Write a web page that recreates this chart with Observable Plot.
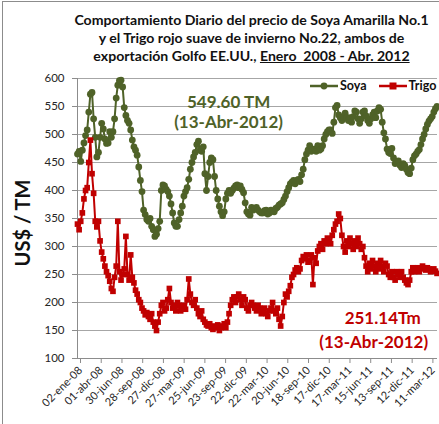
<!DOCTYPE html>
<html><head><meta charset="utf-8">
<script src="https://cdn.jsdelivr.net/npm/d3@7"></script>
<script src="https://cdn.jsdelivr.net/npm/@observablehq/plot@0.6"></script>
<style>
body{margin:0;background:#fff;}
#wrap{position:relative;width:439px;height:424px;overflow:hidden;font-family:Lato,sans-serif;background:#fff;}
#frame{position:absolute;left:2px;top:1px;width:600px;height:600px;border-left:1px solid #8c8c8c;border-top:1px solid #8c8c8c;pointer-events:none;}
#title{position:absolute;left:64px;width:375px;top:11px;text-align:center;font-weight:700;font-size:14.1px;color:#111;white-space:pre;}
#title div{height:18px;line-height:18px;}
#title u{text-decoration:underline;}
#ylab{position:absolute;left:22px;top:223px;transform:translate(-50%,-50%) rotate(-90deg);font-weight:700;font-size:20px;color:#111;white-space:nowrap;}
#legend{position:absolute;left:310px;top:79px;font-weight:700;font-size:12.5px;line-height:13px;color:#111;white-space:nowrap;display:flex;align-items:center;}
#legend svg{display:block;}
#legend span{margin:0 12px 0 2px;}
#chart{position:absolute;left:0;top:0;}
</style></head>
<body>
<div id="wrap">
<div id="chart"></div>
<div id="frame"></div>
<div id="title"><div>Comportamiento Diario del precio de Soya Amarilla No.1</div><div>y el Trigo rojo suave de invierno No.22, ambos de</div><div>exportación Golfo EE.UU., <u>Enero  2008 - Abr. 2012</u></div></div>
<div id="ylab">US$ / TM</div>
<div id="legend"></div>
</div>
<script>
// ---- data ----
const seriesNames = ["Soya", "Trigo"];
const seriesColors = ["#4f6228", "#c00000"];
const weekStart = "2008-01-02";   // weekly readings
const stepDays = 7;

const soya = [
465,470,452,472,485,498,508,540,572,575,528,495,460,468,495,520,
510,492,484,485,505,495,505,528,565,588,596,597,585,548,534,525,
520,508,490,478,472,463,442,418,398,365,357,348,345,350,336,330,
318,322,332,345,400,410,408,402,398,390,376,360,342,336,336,348,
360,372,390,398,405,420,438,450,460,468,482,488,472,470,478,430,
400,425,450,458,455,425,400,385,372,362,355,362,385,395,400,395,
400,404,408,410,405,408,402,396,378,362,358,356,370,365,368,370,
365,362,360,360,364,365,358,360,365,363,362,368,370,374,376,378,
384,390,398,405,412,415,418,412,418,420,416,428,438,455,465,472,
480,470,474,474,470,480,472,474,480,492,500,505,508,508,502,522,
548,552,535,530,525,530,538,530,525,530,522,532,542,540,528,520,
528,540,542,533,525,520,528,535,540,530,542,548,545,522,503,492,
474,468,466,475,458,448,452,453,445,441,448,445,438,432,430,440,
455,462,465,470,473,482,492,500,510,518,524,528,532,540,546,550];

const trigo = [
340,330,345,360,385,400,405,450,490,430,395,345,335,345,310,290,
278,265,255,248,238,225,220,245,265,345,255,240,250,260,318,250,
240,285,245,235,222,215,205,200,190,185,178,182,175,170,180,165,
158,150,165,180,195,200,185,190,205,225,200,190,195,185,200,195,
185,190,195,188,205,242,215,200,195,205,190,180,175,185,170,165,
160,158,162,155,152,158,155,160,150,155,158,162,155,165,180,195,
205,210,200,210,215,205,195,210,205,190,185,195,200,195,190,185,
195,190,180,185,190,180,175,185,190,200,185,180,190,170,158,175,
200,215,210,220,230,245,250,258,262,255,260,275,282,278,285,272,
275,285,232,280,270,292,300,305,295,310,305,315,310,305,320,330,
340,345,358,350,320,300,290,310,300,315,305,295,310,300,315,305,
295,300,280,265,255,270,260,275,265,255,270,260,275,265,255,270,
265,250,245,255,245,240,255,250,245,255,245,240,235,232,240,255,
262,255,260,262,255,260,265,262,258,262,260,255,258,260,256,252];

const xTickDates = ["2008-01-02","2008-04-01","2008-06-30","2008-09-28","2008-12-27","2009-03-27","2009-06-25","2009-09-23","2009-12-22","2010-03-22","2010-06-20","2010-09-18","2010-12-17","2011-03-17","2011-06-15","2011-09-13","2011-12-12","2012-03-11"];
const xTickLabels = ["02-ene-08","01-abr-08","30-jun-08","28-sep-08","27-dic-08","27-mar-09","25-jun-09","23-sep-09","22-dic-09","22-mar-10","20-jun-10","18-sep-10","17-dic-10","17-mar-11","15-jun-11","13-sep-11","12-dic-11","11-mar-12"];
const yTicks = [100,150,200,250,300,350,400,450,500,550,600];
const xDomain = ["2008-01-02","2012-04-13"];
const yDomain = [100, 600];

const annotations = [
  {date:"2009-10-19", value:557, text:"549.60 TM", s:0},
  {date:"2009-10-19", value:521, text:"(13-Abr-2012)", s:0},
  {date:"2011-08-19", value:171, text:"251.14Tm", s:1},
  {date:"2011-07-11", value:129, text:"(13-Abr-2012)", s:1}
];

// ---- build ----
const parse = d3.utcParse("%Y-%m-%d");
const t0 = parse(weekStart);
const rows = [];
[soya, trigo].forEach((vals, s) => vals.forEach((v, i) => rows.push({date: d3.utcDay.offset(t0, i*stepDays), value: v, s})));
const soyRows = rows.filter(d => d.s === 0);
const trigoRows = rows.filter(d => d.s === 1);
const tickDates = xTickDates.map(parse);
const ann = annotations.map(a => ({...a, date: parse(a.date)}));

const chart = Plot.plot({
  width: 439, height: 424,
  marginLeft: 77, marginRight: 2, marginTop: 78, marginBottom: 66,
  style: {fontFamily: "Lato, sans-serif", background: "#fff", overflow: "visible"},
  x: {type: "utc", domain: xDomain.map(parse)},
  y: {domain: yDomain},
  marks: [
    Plot.gridY(yTicks.slice(1), {stroke: "#a6a6a6", strokeOpacity: 1, strokeWidth: 1}),
    Plot.axisY(yTicks, {tickSize: 5, tickPadding: 8, fontSize: 11.5, fill: "#262626", stroke: "#8c8c8c", label: null, tickFormat: d => d}),
    Plot.axisX(tickDates, {tickSize: 5, tickPadding: 5, dx: 3, fontSize: 11, fill: "#262626", stroke: "#8c8c8c", tickRotate: -45, label: null, tickFormat: (d, i) => xTickLabels[i]}),
    Plot.ruleX([parse(xDomain[0])], {stroke: "#8c8c8c"}),
    Plot.ruleY([yDomain[0]], {stroke: "#8c8c8c"}),
    Plot.line(soyRows, {x: "date", y: "value", stroke: seriesColors[0], strokeWidth: 2}),
    Plot.dot(soyRows, {x: "date", y: "value", r: 3.4, fill: seriesColors[0], stroke: "none"}),
    Plot.line(trigoRows, {x: "date", y: "value", stroke: seriesColors[1], strokeWidth: 2}),
    Plot.dot(trigoRows, {x: "date", y: "value", symbol: "square", r: 3.2, fill: seriesColors[1], stroke: "none"}),
    Plot.text(ann, {x: "date", y: "value", text: "text", fill: d => seriesColors[d.s], fontSize: 17, fontWeight: 700, textAnchor: "middle"})
  ]
});
document.getElementById("chart").appendChild(chart);

// legend
const lg = document.getElementById("legend");
seriesNames.forEach((n, s) => {
  const sym = s === 0
    ? `<circle cx="14" cy="5" r="3.4" fill="${seriesColors[s]}"/>`
    : `<rect x="10.5" y="1.5" width="7" height="7" fill="${seriesColors[s]}"/>`;
  lg.insertAdjacentHTML("beforeend", `<svg width="28" height="10"><line x1="0" x2="28" y1="5" y2="5" stroke="${seriesColors[s]}" stroke-width="2.5"/>${sym}</svg><span>${n}</span>`);
});
</script>
</body></html>
